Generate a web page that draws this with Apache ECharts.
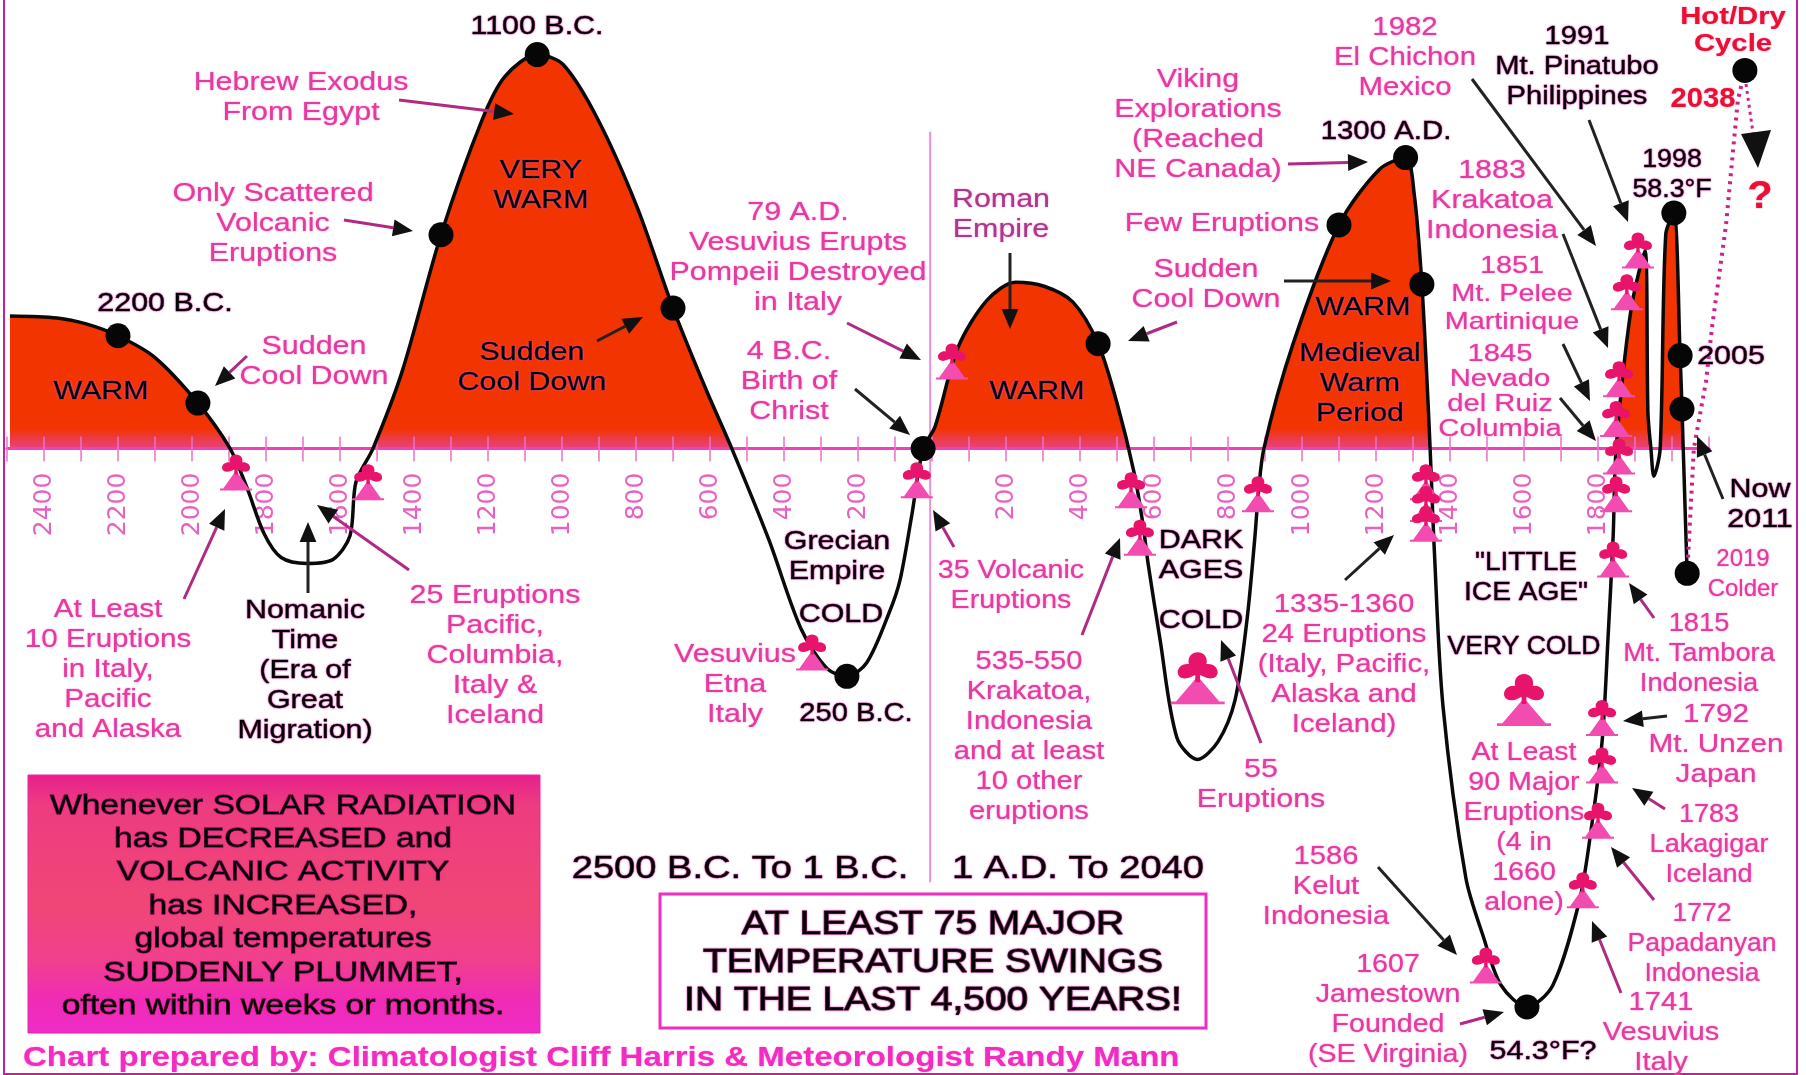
<!DOCTYPE html>
<html><head><meta charset="utf-8">
<style>html,body{margin:0;padding:0;background:#fff}#c{width:1806px;height:1075px}</style>
<script src="https://cdn.jsdelivr.net/npm/echarts@6/dist/echarts.min.js"></script>
</head><body><div id="c"></div>
<script>
// ---- data: axis year (negative = B.C.) and temperature (deg F) ----
const curveYears = [-2492,-2365,-2286,-2200,-2100,-1984,-1897,-1851,-1805,-1759,-1689,-1619,-1573,-1557,-1511,-1432,-1327,-1216,-1154,-1067,-997,-905,-797,-700,-611,-541,-441,-354,-284,-230,-176,-114,-86,-55,-24,8,70,149,226,303,381,449,500,546,570,584,616,662,718,773,819,851,873,881,897,976,1100,1209,1280,1303,1324,1342,1350,1357,1381,1443,1491,1538,1608,1678,1749,1778,1811,1827,1841,1849,1889,1927,1935,1943,1951,1968,1983,2005,2022,2027,2038,2041];
const curveTemps = [57.78,57.77,57.74,57.68,57.57,57.34,57.11,56.91,56.68,56.56,56.53,56.55,56.67,56.94,57.11,57.50,58.19,58.77,58.99,59.10,59.05,58.78,58.33,57.82,57.41,57.11,56.65,56.20,56.00,55.96,56.03,56.29,56.45,56.77,57.11,57.22,57.62,57.86,57.95,57.93,57.85,57.64,57.34,56.99,56.73,56.53,56.15,55.65,55.54,55.63,55.84,56.24,56.67,56.86,57.11,57.64,58.24,58.52,58.58,58.40,57.94,57.29,56.94,56.62,55.81,54.94,54.64,54.40,54.29,54.40,54.82,55.14,55.63,56.15,56.67,57.11,57.81,58.11,57.29,57.11,56.97,57.11,58.19,58.30,57.58,57.31,56.65,56.48];
const dotYears = [-2200,-1984,-1327,-1067,-700,-230,-24,449,1100,1280,1324,1608,2005,2022,2027,2041,2197];
const dotTemps = [57.68,57.34,58.19,59.10,57.82,55.96,57.11,57.64,58.24,58.58,57.94,54.29,58.30,57.58,57.31,56.48,59.02];
const forecastYears = [2197,2178,2146,2108,2092,2059,2046,2041];
const forecastTemps = [59.02,58.87,58.24,57.72,57.45,57.11,56.65,56.48];
const volcanoYears = [-1881,-1524,-324,54,-41,538,562,881,1335,1335,1335,1908,1878,1857,1849,1857,1849,1841,1811,1811,1800,1759,1497];
const volcanoTemps = [56.99,56.94,56.08,57.55,56.95,56.90,56.66,56.88,56.94,56.83,56.73,58.11,57.90,57.46,57.26,57.07,56.88,56.55,55.75,55.51,55.23,54.88,54.50];
const bigVolcanoYears = [718,1600];
const bigVolcanoTemps = [55.95,55.84];
const dividerYears = [-5,-5];
const dividerTemps = [58.71,54.92];
const tickYears = [-2400,-2200,-2000,-1800,-1600,-1400,-1200,-1000,-800,-600,-400,-200,200,400,600,800,1000,1200,1400,1600,1800];
const baselineTemp = 57.11;

// ---- styling helpers ----
const F = '"Liberation Sans"';
const PINK = '#e23c9c', BLACK = '#000000', RED = '#e8122e', MAG = '#f22cc0';
const curve = curveYears.map((y,i)=>[y,curveTemps[i]]);
const pairs = (a,b)=>a.map((y,i)=>[y,b[i]]);
const CLOUD = 'path://M50 0C66 0 76 12 72 26C86 24 100 32 100 44C100 56 84 62 66 54L56 50L56 66L44 66L44 50L34 54C16 62 0 56 0 44C0 32 14 24 28 26C24 12 34 0 50 0Z';
const CONE = 'path://M50 0L90 90L100 90L100 100L0 100L0 90L10 90Z';

function txt(text,x,y,color,size,opt){
  opt = opt||{};
  const s = size||27;
  return {type:'text',x:x,y:y+2,scaleX:opt.sx||1.17,z:50,silent:true,style:{
    text:text,fill:color,font:(opt.bold?'bold ':'')+s+'px '+F,
    align:opt.left?'left':'center',textAlign:opt.left?'left':'center',
    verticalAlign:'middle',textVerticalAlign:'middle',lineHeight:opt.lh||Math.round(s*1.13),
    textShadowColor:opt.shadow||'#ff50c8',textShadowBlur:color===BLACK?2:1.5,
    stroke:opt.stroke?color:undefined,lineWidth:opt.stroke||0
  }};
}
function arrow(x1,y1,x2,y2,shaft,head){
  const a=Math.atan2(y2-y1,x2-x1),L=head||20,W=L*0.42;
  const bx=x2-L*Math.cos(a),by=y2-L*Math.sin(a);
  const px=-Math.sin(a)*W,py=Math.cos(a)*W;
  return [
    {type:'line',z:45,silent:true,shape:{x1:x1,y1:y1,x2:bx,y2:by},style:{stroke:shaft||'#7a1a5c',lineWidth:3}},
    {type:'polygon',z:46,silent:true,shape:{points:[[x2,y2],[bx+px,by+py],[bx-px,by-py]]},style:{fill:'#111'}}
  ];
}
const M='#b02a84', K='#222';
const arrows = [
 [399,100,514,114,M],[344,220,413,231,M],[247,356,215,386,M],[597,341,643,317,K],[847,323,921,360,M],[855,389,910,435,K],
 [1010,253,1010,329,K],[1177,322,1128,341,M],[1288,164,1368,162,M],[1284,281,1391,281,K],[1472,79,1596,246,K],[1589,120,1628,222,K],
 [1563,234,1608,348,K],[1563,344,1590,401,K],[1560,398,1596,441,K],[1723,499,1697,436,K],
 [184,599,225,509,M],[308,593,308,522,K],[409,570,317,505,M],[954,547,933,510,M],[1082,635,1120,538,M],[1261,743,1221,640,M],
 [1345,580,1394,535,K],[1654,618,1629,583,M],[1667,716,1623,721,K],[1665,809,1632,788,M],[1654,900,1611,847,M],[1621,993,1592,921,M],
 [1378,867,1457,955,K],[1460,1024,1504,1012,M]
];
const graphics = [];
arrows.forEach(a=>arrow.apply(null,a).forEach(g=>graphics.push(g)));
graphics.push({type:'line',z:45,silent:true,shape:{x1:1746,y1:84,x2:1754,y2:140},style:{stroke:'#d0208c',lineWidth:3,lineDash:[3,4]}});
graphics.push({type:'polygon',z:46,silent:true,shape:{points:[[1758,168],[1741,134],[1771,130]]},style:{fill:'#111'}});
graphics.push({type:'rect',z:1,silent:true,shape:{x:4,y:-4,width:1793,height:1078},style:{fill:'none',stroke:'#c4209a',lineWidth:2}});
graphics.push({type:'rect',z:30,silent:true,shape:{x:28,y:775,width:512,height:258},style:{
  fill:{type:'linear',x:0,y:0,x2:0,y2:1,colorStops:[{offset:0,color:'#e6208c'},{offset:0.12,color:'#ee3c80'},{offset:0.5,color:'#f04676'},{offset:0.72,color:'#f0408e'},{offset:0.86,color:'#f02cb4'},{offset:1,color:'#ee2cc8'}]},
  stroke:'#e824a8',lineWidth:1}});
graphics.push({type:'rect',z:30,silent:true,shape:{x:660,y:894,width:546,height:134},style:{fill:'#fff',stroke:MAG,lineWidth:3}});
[
 ['Hebrew Exodus\nFrom Egypt',301,96],['Only Scattered\nVolcanic\nEruptions',273,222],['Sudden\nCool Down',314,360],
 ['79 A.D.\nVesuvius Erupts\nPompeii Destroyed\nin Italy',798,256],['4 B.C.\nBirth of\nChrist',789,380],
 ['Viking\nExplorations\n(Reached\nNE Canada)',1198,123],['Few Eruptions',1222,222],['Sudden\nCool Down',1206,283],
 ['1982\nEl Chichon\nMexico',1405,56,1.13],['1883\nKrakatoa\nIndonesia',1492,199],
 ['At Least\n10 Eruptions\nin Italy,\nPacific\nand Alaska',108,668,1.14],
 ['25 Eruptions\nPacific,\nColumbia,\nItaly &\nIceland',495,654],['Vesuvius\nEtna\nItaly',735,683],['35 Volcanic\nEruptions',1011,584,1.1],
 ['535-550\nKrakatoa,\nIndonesia\nand at least\n10 other\neruptions',1029,735,1.12],['55\nEruptions',1261,783],
 ['1335-1360\n24 Eruptions\n(Italy, Pacific,\nAlaska and\nIceland)',1344,663,1.13],['1586\nKelut\nIndonesia',1326,885,1.12],
 ['1607\nJamestown\nFounded\n(SE Virginia)',1388,1008,1.1],['At Least\n90 Major\nEruptions\n(4 in\n1660\nalone)',1524,826,1.1],
 ['1815\nMt. Tambora\nIndonesia',1699,652,1.05],['1792\nMt. Unzen\nJapan',1716,743,1.14],
 ['1783\nLakagigar\nIceland',1709,843,1.04],['1772\nPapadanyan\nIndonesia',1702,942,1.02],['1741\nVesuvius\nItaly',1661,1031,1.12]
].forEach(t=>graphics.push(txt(t[0],t[1],t[2],PINK,26,{lh:30,sx:t[3]})));
graphics.push(txt('1851\nMt. Pelee\nMartinique',1512,292,PINK,24,{lh:28,sx:1.2}));
graphics.push(txt('1845\nNevado\ndel Ruiz\nColumbia',1500,390,PINK,23,{lh:25,sx:1.27}));
graphics.push(txt('2019\nColder',1743,572,PINK,24,{lh:30,sx:1.0}));
graphics.push(txt('Roman\nEmpire',1001,213,'#a83a88',26,{lh:30}));
[
 ['1100 B.C.',537,25],['2200 B.C.',165,302],['VERY\nWARM',541,184],['WARM',101,390],['Sudden\nCool Down',532,366],['WARM',1037,390],['WARM',1363,306],
 ['Medieval\nWarm\nPeriod',1360,382],['1300 A.D.',1386,130,1.13],['1991\nMt. Pinatubo\nPhilippines',1577,65,1.12],['1998\n58.3°F',1672,173,1.03],['2005',1731,355],
 ['Now\n2011',1760,503],['Nomanic\nTime\n(Era of\nGreat\nMigration)',305,669],['Grecian\nEmpire',837,555],['COLD',841,613],['250 B.C.',856,712,1.12],
 ['DARK\nAGES',1201,554],['COLD',1201,619],['"LITTLE\nICE AGE"',1526,576,1.08],['VERY COLD',1524,645,1.02],['54.3°F?',1543,1050]
].forEach(t=>graphics.push(txt(t[0],t[1],t[2],BLACK,26,{lh:30,sx:t[3],stroke:0.5})));
graphics.push(txt('Hot/Dry\nCycle',1733,29,RED,24,{bold:true,lh:27,sx:1.22}));
graphics.push(txt('2038',1703,98,RED,27,{bold:true,sx:1.08}));
graphics.push(txt('?',1760,196,RED,38,{bold:true,sx:1.1}));
graphics.push(txt('Whenever SOLAR RADIATION\nhas DECREASED and\nVOLCANIC ACTIVITY\nhas INCREASED,\nglobal temperatures\nSUDDENLY PLUMMET,\noften within weeks or months.',283,904,BLACK,28,{lh:33.4,stroke:0.8,sx:1.2,shadow:'#ff20a0'}));
graphics.push(txt('2500 B.C. To 1 B.C.',740,867,BLACK,32,{stroke:0.6,sx:1.19}));
graphics.push(txt('1 A.D. To 2040',1078,867,BLACK,32,{stroke:0.6,sx:1.19}));
graphics.push(txt('AT LEAST 75 MAJOR\nTEMPERATURE SWINGS\nIN THE LAST 4,500 YEARS!',933,961,BLACK,33,{lh:38,stroke:1,sx:1.18}));
graphics.push(txt('Chart prepared by: Climatologist Cliff Harris & Meteorologist Randy Mann',23,1056,MAG,28,{bold:true,left:true,sx:1.18,lh:30,shadow:'#ff80e0'}));

const TOP=15, BASE=448.62, AXIS0=1064.4, LEFT=7, XW=1794.5, XW2=1702;
const chart = echarts.init(document.getElementById('c'),null,{renderer:'canvas'});
const xCommon = {type:'value',min:-2500,interval:100,splitLine:{show:false}};
chart.setOption({
  animation:false,
  backgroundColor:'#fff',
  grid:[
    {left:LEFT,top:TOP,width:XW,height:AXIS0-TOP},
    {left:LEFT,top:TOP,width:XW2,height:BASE-TOP}
  ],
  xAxis:[
    Object.assign({},xCommon,{gridIndex:0,max:2350,show:false}),
    Object.assign({},xCommon,{gridIndex:1,max:2100,position:'bottom',z:5,
      axisLine:{show:true,lineStyle:{color:'#f040b8',width:3}},
      axisTick:{show:true,length:13,lineStyle:{color:'#ee70c8',width:1.5}},
      axisLabel:{show:true,rotate:90,margin:24,interval:0,hideOverlap:false,showMinLabel:true,showMaxLabel:false,
        fontFamily:'"DejaVu Sans"',fontSize:25,color:'#e860c0',
        formatter:v=>tickYears.indexOf(v)>=0?String(Math.abs(v)):''}}),
    Object.assign({},xCommon,{gridIndex:1,max:2100,position:'bottom',z:5,
      axisLine:{show:false},axisLabel:{show:false},
      axisTick:{show:true,inside:true,length:12,lineStyle:{color:'#ee70c8',width:1.5}}})
  ],
  yAxis:[
    {type:'value',gridIndex:0,min:54,max:59.3,show:false},
    {type:'value',gridIndex:1,min:baselineTemp,max:59.3,show:false}
  ],
  series:[
    {type:'line',name:'warm',xAxisIndex:1,yAxisIndex:1,data:curve,smooth:0.3,showSymbol:false,z:2,clip:true,
      lineStyle:{width:0},
      areaStyle:{opacity:1,origin:'start',color:{type:'linear',global:true,x:0,y:0,x2:0,y2:BASE,colorStops:[
        {offset:0,color:'#f23400'},{offset:0.955,color:'#f23400'},{offset:0.98,color:'#ec3c4c'},{offset:1,color:'#e84080'}]}}},
    {type:'line',name:'divider',xAxisIndex:0,yAxisIndex:0,data:pairs(dividerYears,dividerTemps),showSymbol:false,z:1,
      lineStyle:{color:'#f090d8',width:2}},
    {type:'line',name:'temperature',xAxisIndex:0,yAxisIndex:0,data:curve,smooth:0.3,showSymbol:false,z:6,
      lineStyle:{color:'#0a0a0a',width:3.5}},
    {type:'line',name:'forecast',xAxisIndex:0,yAxisIndex:0,data:pairs(forecastYears,forecastTemps),showSymbol:false,z:6,
      lineStyle:{color:'#d0208c',width:4,type:[3,5]}},
    {type:'scatter',name:'cone',xAxisIndex:0,yAxisIndex:0,data:pairs(volcanoYears,volcanoTemps),symbol:CONE,symbolSize:[32,20],symbolOffset:[0,8],z:7,itemStyle:{color:'#f24cb0',opacity:1}},
    {type:'scatter',name:'cloud',xAxisIndex:0,yAxisIndex:0,data:pairs(volcanoYears,volcanoTemps),symbol:CLOUD,symbolSize:[28,20],symbolOffset:[0,-8],z:8,itemStyle:{color:'#e8146c',opacity:1}},
    {type:'scatter',name:'bigCone',xAxisIndex:0,yAxisIndex:0,data:pairs(bigVolcanoYears,bigVolcanoTemps),symbol:CONE,symbolSize:[54,28],symbolOffset:[0,12],z:7,itemStyle:{color:'#f24cb0',opacity:1}},
    {type:'scatter',name:'bigCloud',xAxisIndex:0,yAxisIndex:0,data:pairs(bigVolcanoYears,bigVolcanoTemps),symbol:CLOUD,symbolSize:[40,30],symbolOffset:[0,-11],z:8,itemStyle:{color:'#e8146c',opacity:1}},
    {type:'scatter',name:'dots',xAxisIndex:0,yAxisIndex:0,data:pairs(dotYears,dotTemps),symbol:'circle',symbolSize:25,z:9,itemStyle:{color:'#060606',opacity:1}}
  ],
  graphic:{elements:graphics}
});
</script></body></html>
